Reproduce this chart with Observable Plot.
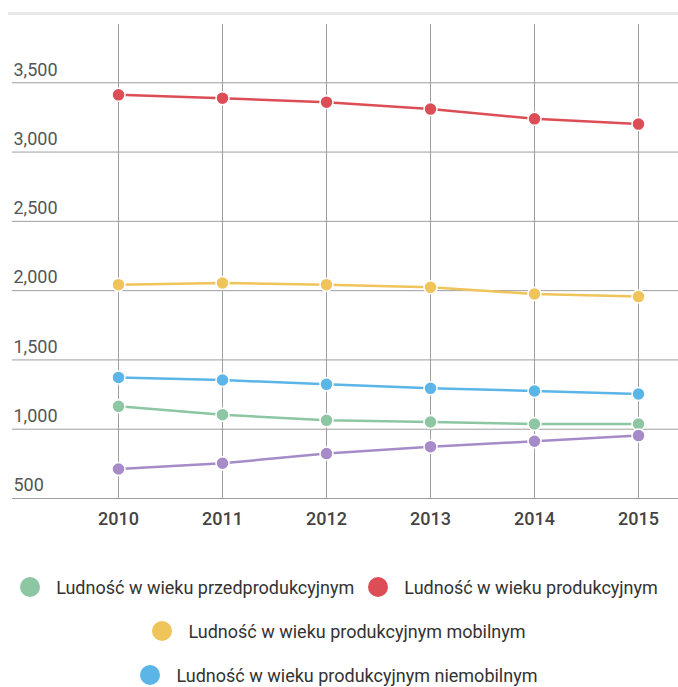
<!DOCTYPE html>
<html>
<head>
<meta charset="utf-8">
<script src="https://cdn.jsdelivr.net/npm/d3@7"></script>
<script src="https://cdn.jsdelivr.net/npm/@observablehq/plot@0.6"></script>
<style>
  body { margin: 0; background: #fff; font-family: Roboto, "Noto Sans", sans-serif; }
  #legend { width: 678px; display: flex; flex-wrap: wrap; justify-content: center; margin-top: 30px; row-gap: 20px; column-gap: 14px; padding: 0 8px; box-sizing: border-box; }
  .item { display: flex; align-items: center; font-size: 18px; color: #333; height: 24px; }
  .dot { width: 20px; height: 20px; border-radius: 50%; margin-right: 16px; }
</style>
</head>
<body>
<div id="chart"></div>
<div id="legend"></div>
<script>
const years = [2010, 2011, 2012, 2013, 2014, 2015];
const seriesNames = [
  "Ludność w wieku przedprodukcyjnym",
  "Ludność w wieku produkcyjnym",
  "Ludność w wieku produkcyjnym mobilnym",
  "Ludność w wieku produkcyjnym niemobilnym",
  "Ludność w wieku poprodukcyjnym"
];
const colors = ["#8cc6a2", "#dc4d55", "#efc45a", "#5bb5e6", "#a68bc9"];
const przedprodukcyjny = [1165, 1105, 1064, 1052, 1038, 1038];
const produkcyjny = [3413, 3389, 3360, 3310, 3240, 3202];
const mobilny = [2043, 2055, 2043, 2024, 1976, 1957];
const niemobilny = [1374, 1355, 1324, 1295, 1276, 1254];
const poprodukcyjny = [713, 754, 824, 874, 913, 954];
const yTicks = [500, 1000, 1500, 2000, 2500, 3000, 3500];
const legendNames = seriesNames.slice(0, 4);

const allSeries = [przedprodukcyjny, produkcyjny, mobilny, niemobilny, poprodukcyjny];
const data = [];
allSeries.forEach((vals, i) => vals.forEach((v, j) => data.push({year: years[j], value: v, series: seriesNames[i]})));

const chart = Plot.plot({
  width: 678,
  height: 545,
  marginLeft: 12,
  marginRight: 0,
  marginTop: 0,
  marginBottom: 0,
  style: {fontFamily: "Roboto, sans-serif", background: "#fff"},
  x: {type: "point", domain: years, range: [117, 638], padding: 0, axis: null},
  y: {domain: [500, 4000], range: [498, 13], axis: null},
  color: {domain: seriesNames, range: colors},
  marks: [
    Plot.ruleY([4000], {stroke: "#e8e8e8", strokeWidth: 3, strokeOpacity: 1, insetLeft: -4}),
    Plot.ruleY(yTicks, {stroke: "#9e9e9e", strokeWidth: 1, strokeOpacity: 1}),
    Plot.ruleX(years, {y1: 500, y2: 3920, stroke: "#9e9e9e", strokeWidth: 1, strokeOpacity: 1}),
    Plot.text(yTicks, {y: d => d, text: d => d3.format(",")(d), frameAnchor: "left", textAnchor: "start", dx: 1, dy: -13, fontSize: 18, fill: "#555"}),
    Plot.text(years, {x: d => d, y: 500, text: d => String(d), dy: 21, fontSize: 18, fontWeight: 500, fill: "#444"}),
    Plot.line(data, {x: "year", y: "value", stroke: "series", strokeWidth: 2.5, z: "series"}),
    Plot.dot(data, {x: "year", y: "value", fill: "series", r: 6.5, stroke: "#fff", strokeWidth: 1.5})
  ]
});
document.getElementById("chart").appendChild(chart);

const legend = document.getElementById("legend");
legendNames.forEach((name, i) => {
  const item = document.createElement("div");
  item.className = "item";
  const dot = document.createElement("span");
  dot.className = "dot";
  dot.style.background = colors[i];
  const label = document.createElement("span");
  label.textContent = name;
  item.appendChild(dot);
  item.appendChild(label);
  legend.appendChild(item);
});
</script>
</body>
</html>
